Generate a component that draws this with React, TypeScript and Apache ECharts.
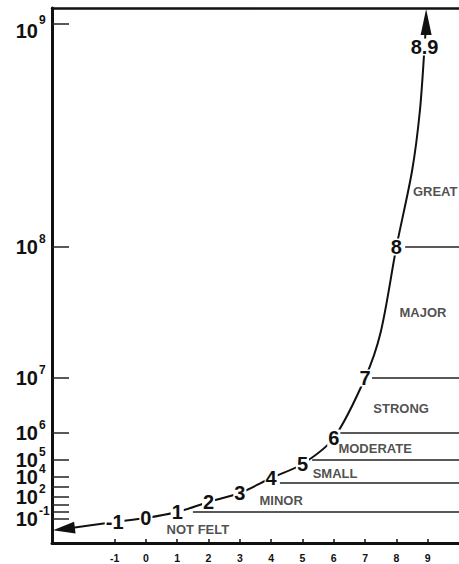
import React, { useEffect, useRef } from "react";
import * as echarts from "echarts";

// Richter magnitude (x) vs. energy, drawn on the picture's warped vertical scale
// (vertical values are in "scale units")
const magnitudes = [-1, 0, 1, 2, 3, 4, 5, 6, 7, 7.5, 8, 8.5, 8.75, 8.9];
const curveHeights = [21, 25, 31, 41, 50, 65, 79, 105, 165, 211, 296, 372, 432, 496];
const labeledMagnitudes = [-1, 0, 1, 2, 3, 4, 5, 6, 7, 8, 8.9];
const leftArrowPoint = [-2.62, 14];
const topArrowPoint = [8.95, 521];

// decade ticks of the vertical axis
const decadeExponents = [9, 8, 7, 6, 5, 4, 3, 2, 1, 0, -1];
const decadeHeights = [519, 296, 165, 110, 83, 66, 56, 46, 38, 31, 24];
const labeledExponents = [9, 8, 7, 6, 5, 4, 2, -1];

// magnitude ticks
const xTicks = [-1, 0, 1, 2, 3, 4, 5, 6, 7, 8, 9];

// class bands
const classNames = ["NOT FELT", "MINOR", "SMALL", "MODERATE", "STRONG", "MAJOR", "GREAT"];
const classLabelX = [1.66, 4.32, 6.04, 7.32, 8.15, 8.85, 9.24];
const classLabelH = [14, 43, 70, 95, 135, 231, 352];
const boundaryHeights = [31, 60, 83, 110, 165, 296];
const boundaryStart = [1.5, 4.28, 5.31, 6.2, 7.22, 8.28];

const FONT = "'Liberation Sans', Arial, Helvetica, sans-serif";

export default function App() {
  const ref = useRef<HTMLDivElement>(null);

  useEffect(() => {
    document.body.style.margin = "0";
    if (!ref.current) return;
    const chart = echarts.init(ref.current, undefined, { renderer: "svg" });

    const heightToExp = new Map<number, number>();
    decadeExponents.forEach((e, i) => heightToExp.set(decadeHeights[i], e));
    const labeledHeights = labeledExponents.map(
      (e) => decadeHeights[decadeExponents.indexOf(e)]
    );
    const topHeight = decadeHeights[0];

    const curveData: any[] = [];
    curveData.push({
      value: leftArrowPoint,
      symbol: "triangle",
      symbolSize: [12, 22],
      symbolRotate: 97,
      label: { show: false },
    });
    magnitudes.forEach((m, i) => {
      curveData.push({
        value: [m, curveHeights[i]],
        label: { show: labeledMagnitudes.indexOf(m) >= 0 },
      });
    });
    curveData.push({
      value: topArrowPoint,
      symbol: "triangle",
      symbolSize: [11, 26],
      symbolRotate: 0,
      label: { show: false },
    });

    const boundarySeries = boundaryHeights.map((h, i) => ({
      type: "line",
      data: [
        [boundaryStart[i], h],
        [10, h],
      ],
      symbol: "none",
      lineStyle: { color: "#222", width: 1.5 },
      silent: true,
      z: 2,
    }));

    const yCommon = {
      type: "value",
      min: 0,
      max: 535,
      splitLine: { show: false },
    };

    const option: any = {
      animation: false,
      grid: { left: 52, right: 0, top: 8, bottom: 21 },
      xAxis: [
        {
          type: "value",
          min: -3,
          max: 10,
          axisLine: { show: true, onZero: false, lineStyle: { color: "#111", width: 3 } },
          axisTick: {
            show: true,
            inside: true,
            length: 4,
            customValues: xTicks,
            lineStyle: { color: "#111", width: 1.5 },
          },
          axisLabel: {
            customValues: xTicks,
            fontSize: 10.5,
            fontWeight: "bold",
            color: "#111",
            margin: 9,
            fontFamily: FONT,
            hideOverlap: false,
          },
          splitLine: { show: false },
        },
        {
          type: "value",
          position: "top",
          min: -3,
          max: 10,
          axisLine: { show: true, onZero: false, lineStyle: { color: "#111", width: 2.5 } },
          axisTick: { show: false },
          axisLabel: { show: false },
          splitLine: { show: false },
        },
      ],
      yAxis: [
        {
          ...yCommon,
          position: "left",
          axisLine: { show: true, onZero: false, lineStyle: { color: "#111", width: 3 } },
          axisTick: {
            show: true,
            inside: true,
            length: 17,
            customValues: decadeHeights,
            lineStyle: { color: "#222", width: 1.5 },
          },
          axisLabel: {
            customValues: labeledHeights,
            margin: 14,
            hideOverlap: false,
            showMinLabel: true,
            showMaxLabel: true,
            formatter: (v: number) => (v === topHeight ? "{c|10}" : "{a|10}"),
            rich: {
              a: {
                fontSize: 20,
                fontWeight: "bold",
                color: "#111",
                fontFamily: FONT,
                lineHeight: 16,
              },
              c: {
                fontSize: 20,
                fontWeight: "bold",
                color: "#111",
                fontFamily: FONT,
                lineHeight: 16,
                padding: [14, 0, 0, 0],
              },
            },
          },
        },
        {
          ...yCommon,
          position: "left",
          axisLine: { show: false, onZero: false },
          axisTick: { show: false },
          axisLabel: {
            customValues: labeledHeights,
            margin: 13,
            align: "left",
            verticalAlign: "bottom",
            hideOverlap: false,
            showMinLabel: true,
            showMaxLabel: true,
            formatter: (v: number) => {
              const e = heightToExp.get(v);
              if (e === undefined) return "";
              return v === topHeight ? `{d|${e}}` : `{s|${e}}`;
            },
            rich: {
              s: {
                fontSize: 12,
                fontWeight: "bold",
                color: "#111",
                fontFamily: FONT,
                lineHeight: 16,
              },
              d: {
                fontSize: 12,
                fontWeight: "bold",
                color: "#111",
                fontFamily: FONT,
                lineHeight: 8,
              },
            },
          },
        },
      ],
      series: [
        ...boundarySeries,
        {
          type: "line",
          data: curveData,
          symbol: "circle",
          symbolSize: 1,
          showSymbol: true,
          smooth: 0.3,
          itemStyle: { color: "#111" },
          lineStyle: { color: "#111", width: 2 },
          label: {
            show: true,
            position: "inside",
            formatter: (p: any) => String(p.value[0]),
            fontSize: 20,
            fontWeight: "bold",
            color: "#111",
            fontFamily: FONT,
            backgroundColor: "#fff",
            padding: [0, 1],
            lineHeight: 17,
          },
          labelLayout: { hideOverlap: false },
          silent: true,
          z: 3,
        },
        {
          type: "scatter",
          data: classNames.map((n, i) => ({ name: n, value: [classLabelX[i], classLabelH[i]] })),
          symbolSize: 0,
          label: {
            show: true,
            position: "inside",
            formatter: "{b}",
            fontSize: 13,
            fontWeight: "bold",
            color: "#222",
            fontFamily: FONT,
          },
          labelLayout: { hideOverlap: false },
          silent: true,
          z: 4,
        },
      ],
    };

    chart.setOption(option);
    return () => chart.dispose();
  }, []);

  return <div ref={ref} style={{ width: 459, height: 564 }} />;
}
